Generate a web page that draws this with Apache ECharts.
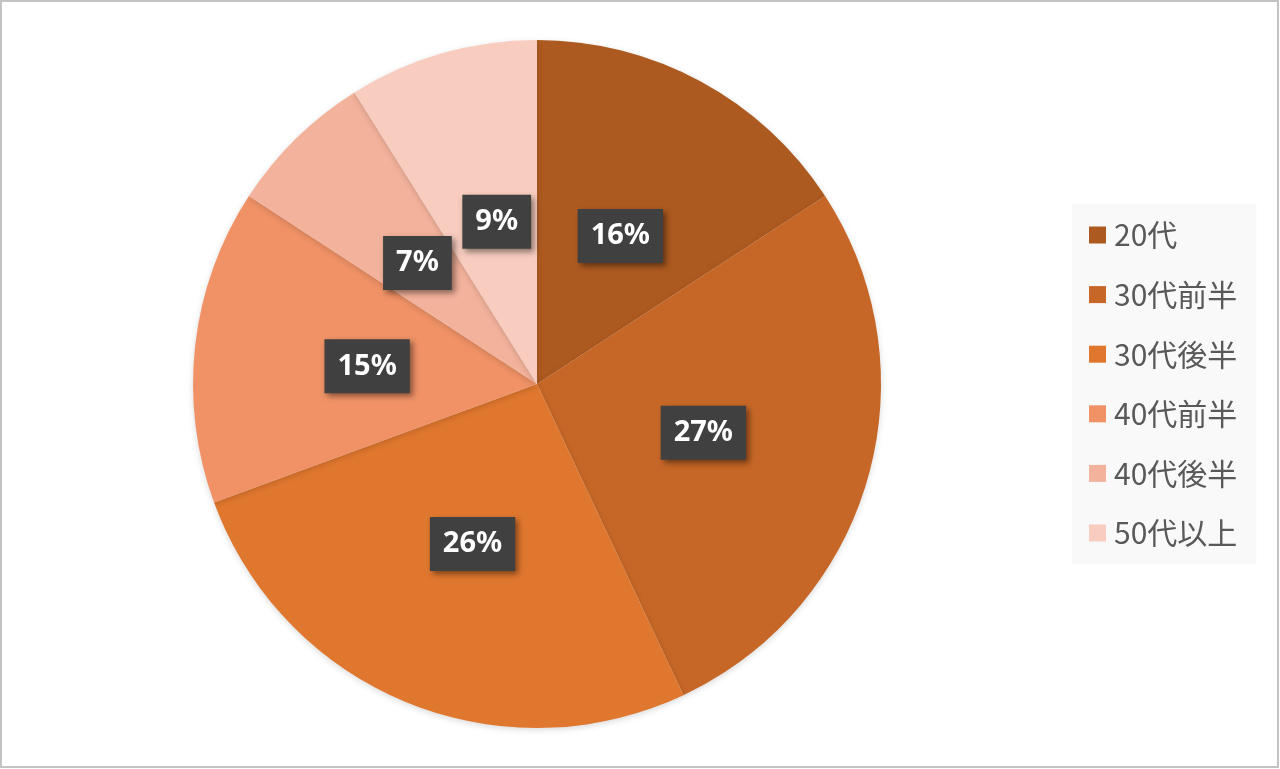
<!DOCTYPE html>
<html><head><meta charset="utf-8">
<script src="https://cdn.jsdelivr.net/npm/echarts@6/dist/echarts.min.js"></script>
<style>html,body{margin:0;padding:0;background:#fff}#c{width:1280px;height:769px}</style>
</head><body><div id="c"></div>
<script>
const categories = ['20代','30代前半','30代後半','40代前半','40代後半','50代以上'];
const values = [15.8, 27.2, 26.4, 14.8, 6.9, 8.9];
const colors = ['#ad5a20','#c66727','#e0772e','#f09266','#f3b29b','#f8cdbf'];
const labelShift = [[0,6],[-2,1],[2,-2],[4,2],[3,4],[8,6]];

const chart = echarts.init(document.getElementById('c'), null, {renderer:'canvas'});
chart.setOption({
  animation: false,
  color: colors,
  graphic: [{type:'rect', shape:{x:1,y:1,width:1277,height:766}, style:{fill:'none', stroke:'#c3c3c3', lineWidth:2}, z:100}],
  legend: {
    orient: 'vertical', left: 1072, top: 204,
    padding: [16, 19, 16, 17],
    backgroundColor: '#f9f9f9',
    itemWidth: 17, itemHeight: 17, itemGap: 29.6,
    icon: 'rect',
    textStyle: {fontFamily: '"Noto Sans CJK JP"', fontSize: 30, lineHeight: 30, color: '#595959', padding:[0,0,0,3]},
    data: categories
  },
  series: [{
    type: 'pie',
    center: [537, 384],
    radius: 344,
    startAngle: 90,
    clockwise: true,
    itemStyle: {shadowBlur: 6, shadowColor: 'rgba(0,0,0,0.15)', shadowOffsetY: 2},
    label: {
      position: 'inside',
      formatter: p => Math.round(p.percent) + '%',
      color: '#fff', fontFamily: '"Noto Sans", "DejaVu Sans"', fontWeight: 'bold', fontSize: 29, lineHeight: 30,
      backgroundColor: '#404040',
      padding: [12, 13, 12, 13],
      shadowColor: 'rgba(0,0,0,0.45)', shadowBlur: 6, shadowOffsetX: 3, shadowOffsetY: 3
    },
    labelLine: {show: false},
    data: categories.map((n, i) => ({name: n, value: values[i], label: {offset: labelShift[i]}}))
  }]
});
</script></body></html>
